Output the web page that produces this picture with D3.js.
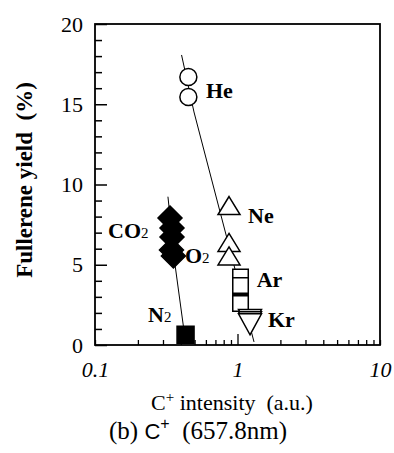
<!DOCTYPE html>
<html>
<head>
<meta charset="utf-8">
<script src="https://cdn.jsdelivr.net/npm/d3@7"></script>
<style>
  body { margin: 0; background: #fff; }
  svg { display: block; }
  text { font-family: "Liberation Serif", "Times New Roman", serif; fill: #000; }
</style>
</head>
<body>
<div id="chart"></div>
<script>
// x = C+ intensity (a.u.), y = fullerene yield (%)
const he  = [[0.452, 16.7], [0.452, 15.45]];
const ne  = [[0.872, 8.69], [0.872, 6.39], [0.872, 5.55]];
const ar  = [[1.05, 4.24], [1.05, 3.71], [1.05, 2.68], [1.05, 2.59]];
const kr  = [[1.224, 1.55], [1.224, 1.41], [1.224, 1.29]];
const co2 = [[0.336, 7.91], [0.347, 7.29], [0.347, 6.73]];
const o2  = [[0.344, 5.92], [0.355, 5.55]];
const n2  = [[0.432, 0.64]];

// trend lines
const rareGasLine = [[0.405, 18.07], [0.495, 14.52], [1.306, 0.19]];
const molecLine   = [[0.325, 9.24], [0.367, 4.80], [0.417, 1.18]];

// label anchors (data units)
const labels = [
  {t: "He", x: 0.601, y: 15.39},
  {t: "Ne", x: 1.185, y: 7.60},
  {t: "O", sub: "2", x: 0.428, y: 5.11},
  {t: "CO", sub: "2", x: 0.1234, y: 6.67},
  {t: "Ar", x: 1.364, y: 3.61},
  {t: "Kr", x: 1.637, y: 1.12},
  {t: "N", sub: "2", x: 0.2355, y: 1.43}
];

const xMajor = [0.1, 1, 10];
const yMajor = [0, 5, 10, 15, 20];

const W = 394, H = 453;
const margin = {top: 24, right: 14, bottom: 108, left: 95};
const width = W - margin.left - margin.right;
const height = H - margin.top - margin.bottom;
const serif = '"Liberation Serif", "Times New Roman", serif';

const svg = d3.select("#chart").append("svg")
  .attr("width", W).attr("height", H);
const g = svg.append("g")
  .attr("transform", `translate(${margin.left},${margin.top})`);

const x = d3.scaleLog().domain([0.1, 10]).range([0, width]);
const y = d3.scaleLinear().domain([0, 20]).range([height, 0]);

// y axis (ticks inward)
const yAxis = g.append("g")
  .call(d3.axisLeft(y)
    .tickValues(d3.range(0, 21))
    .tickSize(-7)
    .tickPadding(12)
    .tickFormat(d => yMajor.includes(d) ? d : ""));
yAxis.select(".domain").remove();
yAxis.selectAll(".tick line")
  .attr("x2", d => yMajor.includes(d) ? 12 : 7)
  .attr("stroke-width", 1.5);
yAxis.selectAll(".tick text")
  .style("font-family", serif)
  .style("font-size", "22px");

// x axis (ticks inward)
const xTicks = [];
[0.1, 1].forEach(dec => { for (let k = 1; k <= 9; k++) xTicks.push(+(dec * k).toPrecision(3)); });
xTicks.push(10);
const xAxis = g.append("g")
  .attr("transform", `translate(0,${height})`)
  .call(d3.axisBottom(x)
    .tickValues(xTicks)
    .tickSize(-5)
    .tickPadding(16)
    .tickFormat(d => xMajor.includes(d) ? String(d) : ""));
xAxis.select(".domain").remove();
xAxis.selectAll(".tick line")
  .attr("y2", d => d === 1 ? -11 : -5)
  .attr("stroke-width", 1.3);
xAxis.selectAll(".tick text")
  .style("font-family", serif)
  .style("font-size", "22px")
  .style("font-style", "italic");

// frame
g.append("rect")
  .attr("width", width).attr("height", height)
  .attr("fill", "none").attr("stroke", "#000").attr("stroke-width", 1.8);

// trend lines
const line = d3.line().x(d => x(d[0])).y(d => y(d[1]));
[rareGasLine, molecLine].forEach(pts => {
  g.append("path").attr("d", line(pts))
    .attr("fill", "none").attr("stroke", "#000").attr("stroke-width", 1);
});

// marker shapes
function tri(w, h, down) {
  const s = down ? -1 : 1;
  return `M0,${-s * h / 2}L${w / 2},${s * h / 2}L${-w / 2},${s * h / 2}Z`;
}
function diamond(w, h) {
  return `M0,${-h / 2}L${w / 2},0L0,${h / 2}L${-w / 2},0Z`;
}
function square(s) {
  return `M${-s / 2},${-s / 2}h${s}v${s}h${-s}Z`;
}

function plot(data, path, fill) {
  g.append("g").selectAll("path").data(data).join("path")
    .attr("transform", d => `translate(${x(d[0])},${y(d[1])})`)
    .attr("d", path)
    .attr("fill", fill)
    .attr("stroke", "#000")
    .attr("stroke-width", 1.5);
}

plot(co2.concat(o2), diamond(24, 24), "#000");
plot(n2, square(17), "#000");
plot(he, d3.symbol().type(d3.symbolCircle).size(Math.PI * 8.5 * 8.5)(), "#fff");
plot(ne, tri(22, 18, false), "#fff");
plot(ar, square(15.5), "#fff");
plot(kr, tri(23, 21, true), "#fff");

// point labels
const lab = g.append("g").selectAll("text").data(labels).join("text")
  .attr("x", d => x(d.x))
  .attr("y", d => y(d.y))
  .attr("font-size", 22)
  .attr("font-weight", "bold");
lab.append("tspan").text(d => d.t);
lab.filter(d => d.sub).append("tspan")
  .attr("font-size", 15)
  .attr("font-weight", "normal")
  .text(d => d.sub);

// y title
svg.append("text")
  .attr("transform", `translate(32,${180}) rotate(-90)`)
  .attr("text-anchor", "middle")
  .attr("font-size", 23)
  .attr("font-weight", "bold")
  .attr("xml:space", "preserve")
  .text("Fullerene yield  (%)");

// x title
const xt = svg.append("text")
  .attr("x", 232).attr("y", 410)
  .attr("text-anchor", "middle")
  .attr("font-size", 22)
  .attr("xml:space", "preserve");
xt.append("tspan").text("C");
xt.append("tspan").attr("font-size", 15).attr("dy", -8).text("+");
xt.append("tspan").attr("dy", 8).text(" intensity  (a.u.)");

// caption
const cap = svg.append("text")
  .attr("x", 198).attr("y", 439)
  .attr("text-anchor", "middle")
  .attr("font-size", 25)
  .attr("xml:space", "preserve");
cap.append("tspan").text("(b) ");
cap.append("tspan").style("font-family", "'Liberation Sans', Arial, sans-serif").attr("font-size", 22).text("C");
cap.append("tspan").style("font-family", "'Liberation Sans', Arial, sans-serif").attr("font-size", 16).attr("dy", -10).text("+");
cap.append("tspan").attr("dy", 10).text("  (657.8nm)");
</script>
</body>
</html>
